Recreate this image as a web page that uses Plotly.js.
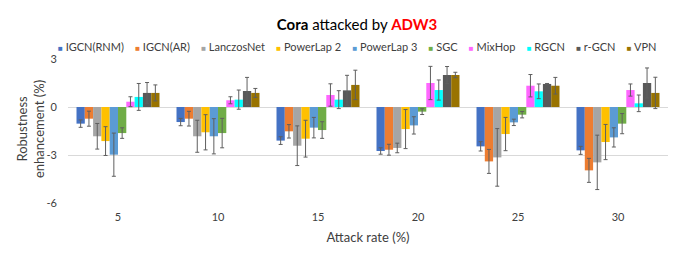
<!DOCTYPE html>
<html>
<head>
<meta charset="utf-8">
<script src="https://cdn.plot.ly/plotly-3.0.1.min.js"></script>
<style>html,body{margin:0;padding:0;background:#fff;}#chart{width:678px;height:255px;}</style>
</head>
<body>
<div id="chart"></div>
<script>
const categories = ['5', '10', '15', '20', '25', '30'];
const seriesNames = ['IGCN(RNM)', 'IGCN(AR)', 'LanczosNet', 'PowerLap 2', 'PowerLap 3', 'SGC', 'MixHop', 'RGCN', 'r-GCN', 'VPN'];

const igcnRnm    = [-1.04, -0.94, -2.10, -2.75, -2.46, -2.71];
const igcnRnmErr = [0.23, 0.23, 0.24, 0.20, 0.29, 0.25];
const igcnAr     = [-0.73, -0.73, -1.52, -2.67, -3.40, -3.96];
const igcnArErr  = [0.47, 0.46, 0.42, 0.34, 0.75, 0.75];
const lanczos    = [-1.83, -1.83, -2.42, -2.56, -3.15, -3.46];
const lanczosErr = [0.80, 1.00, 1.24, 0.30, 1.80, 1.70];
const powerLap2    = [-2.13, -1.58, -1.98, -1.38, -1.69, -2.19];
const powerLap2Err = [0.90, 1.10, 1.15, 1.22, 1.04, 1.10];
const powerLap3    = [-2.98, -1.83, -1.29, -1.15, -0.96, -1.90];
const powerLap3Err = [1.35, 1.10, 0.64, 0.54, 0.20, 0.60];
const sgc    = [-1.63, -1.63, -1.44, -0.29, -0.48, -1.04];
const sgcErr = [0.33, 0.92, 0.52, 0.18, 0.20, 0.63];
const mixHop    = [0.33, 0.42, 0.75, 1.50, 1.33, 1.06];
const mixHopErr = [0.31, 0.22, 0.70, 1.04, 0.70, 0.38];
const rgcn    = [0.63, 0.46, 0.46, 1.06, 0.98, 0.23];
const rgcnErr = [0.84, 0.60, 0.56, 0.63, 0.46, 0.52];
const rGcn    = [0.88, 1.00, 1.04, 2.00, 1.44, 1.50];
const rGcnErr = [0.65, 0.85, 0.94, 0.53, 0.03, 0.94];
const vpn    = [0.88, 0.88, 1.38, 2.00, 1.33, 0.88];
const vpnErr = [0.50, 0.28, 0.92, 0.17, 0.52, 0.98];

const yTicks = [-6, -3, 0, 3];

const values = [igcnRnm, igcnAr, lanczos, powerLap2, powerLap3, sgc, mixHop, rgcn, rGcn, vpn];
const errors = [igcnRnmErr, igcnArErr, lanczosErr, powerLap2Err, powerLap3Err, sgcErr, mixHopErr, rgcnErr, rGcnErr, vpnErr];
const colors = ['#4472C4', '#ED7D31', '#A5A5A5', '#FFC000', '#5B9BD5', '#70AD47', '#FF66FF', '#00FFFF', '#595959', '#997300'];

const FONT = 'Lato, "Open Sans", sans-serif';

const traces = seriesNames.map((name, i) => ({
  type: 'bar',
  name: name,
  x: categories,
  y: values[i],
  marker: {color: colors[i], line: {width: 0}},
  error_y: {type: 'data', array: errors[i], visible: true, color: '#5f5f5f', thickness: 1, width: 2},
  showlegend: false
}));

const legendText = seriesNames.map((n, i) =>
  '<span style="color:' + colors[i] + ';font-size:8px">\u25A0</span>\u00A0' + n
).join('\u00A0\u00A0\u00A0\u00A0');

const layout = {
  width: 678,
  height: 255,
  margin: {l: 68, r: 10, t: 59, b: 52},
  paper_bgcolor: '#ffffff',
  plot_bgcolor: '#ffffff',
  font: {family: FONT, color: '#404040', size: 11},
  title: {
    text: '<b>Cora</b> attacked by <b><span style="color:#ff0000">ADW3</span></b>',
    font: {family: FONT, size: 15, color: '#000000'},
    x: 357 / 678, xref: 'container', xanchor: 'center',
    y: 1 - 25 / 255, yref: 'container', yanchor: 'middle'
  },
  barmode: 'group',
  bargap: 0.17,
  bargroupgap: 0,
  xaxis: {
    type: 'category',
    showgrid: false,
    zeroline: false,
    showline: false,
    ticks: '',
    ticklabelstandoff: 6,
    tickfont: {family: FONT, size: 11, color: '#404040'},
    title: {text: 'Attack rate (%)', font: {family: FONT, size: 13, color: '#404040'}, standoff: 10}
  },
  yaxis: {
    range: [-6, 3],
    tickvals: yTicks,
    ticktext: yTicks.map(String),
    showgrid: true,
    gridcolor: '#d9d9d9',
    gridwidth: 1,
    zeroline: true,
    zerolinecolor: '#d9d9d9',
    zerolinewidth: 1,
    showline: false,
    ticks: '',
    ticklabelstandoff: 10,
    tickfont: {family: FONT, size: 11, color: '#404040'}
  },
  annotations: [{
    text: legendText,
    xref: 'paper', yref: 'paper',
    x: (357 - 68) / 600, y: 1 + 13 / 144,
    xanchor: 'center', yanchor: 'middle',
    showarrow: false,
    font: {family: FONT, size: 11, color: '#404040'}
  }, {
    text: 'Robustness<br>enhancement (%)',
    xref: 'paper', yref: 'paper',
    x: (30 - 68) / 600, y: (203 - 129) / 144,
    xanchor: 'center', yanchor: 'middle',
    textangle: -90,
    showarrow: false,
    font: {family: FONT, size: 13, color: '#404040'}
  }],
  showlegend: false
};

Plotly.newPlot('chart', traces, layout, {displayModeBar: false, staticPlot: true});
</script>
</body>
</html>
